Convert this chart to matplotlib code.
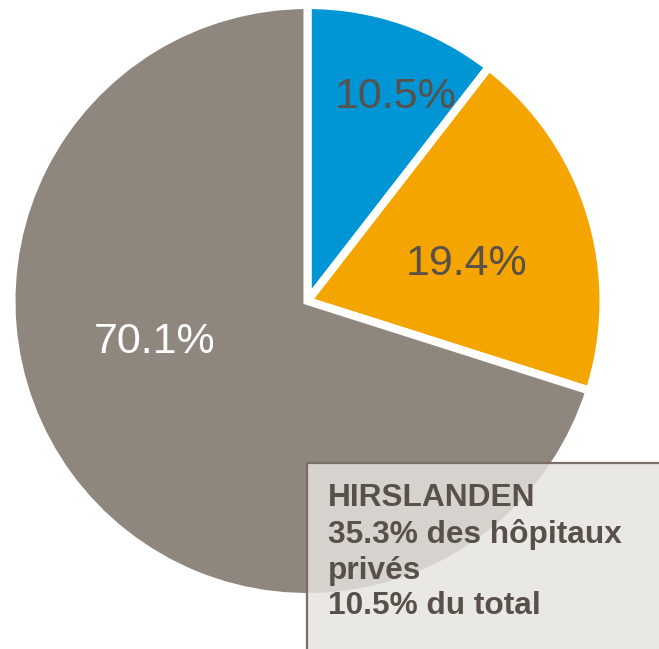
import matplotlib.pyplot as plt
from matplotlib.patches import Rectangle

# Data
labels = ['10.5%', '19.4%', '70.1%']
shares = [10.5, 19.4, 70.1]
colors = ['#0096D6', '#F5A500', '#8F877E']
label_colors = ['#595049', '#595049', 'white']
box_lines = ['HIRSLANDEN', '35.3% des hôpitaux', 'privés', '10.5% du total']

plt.rcParams['font.family'] = ['Liberation Sans', 'DejaVu Sans']

W, H = 659, 649
fig = plt.figure(figsize=(W / 100, H / 100), dpi=100)
ax = fig.add_axes([0, 0, 1, 1])

cx, cy, r = 307.5, H - 301, 296
wedges, texts = ax.pie(shares, colors=colors, startangle=90, counterclock=False,
                       center=(cx, cy), radius=r, labels=labels,
                       labeldistance=0.5, frame=True,
                       wedgeprops=dict(edgecolor='white', linewidth=5.8))
ax.set_xlim(0, W)
ax.set_ylim(0, H)
ax.set_aspect('equal')
ax.axis('off')

# place labels roughly like the original
label_pos = [(396, 97), (467, 264), (155, 342)]
for t, (x, y), c in zip(texts, label_pos, label_colors):
    t.set_position((x, H - y))
    t.set_ha('center')
    t.set_va('center')
    t.set_fontsize(31)
    t.set_color(c)

# annotation box
box = Rectangle((307, -10), 400, H - 463 + 10, facecolor='#E6E4E0', alpha=0.82,
                edgecolor='none', zorder=5)
ax.add_patch(box)
ax.plot([307, 307, 670], [-5, H - 463, H - 463], color='#7A6E66', lw=1.6,
        zorder=6, solid_joinstyle='miter')
ax.text(328, H - 483, '\n'.join(box_lines), ha='left', va='top', fontsize=22.8,
        fontweight='bold', color='#595049', linespacing=1.25, zorder=7)

fig.savefig('out.png', dpi=100)
